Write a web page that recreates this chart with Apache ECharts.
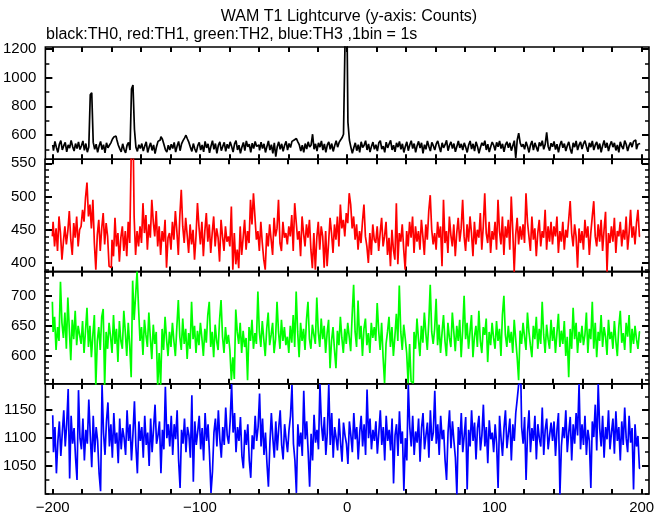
<!DOCTYPE html>
<html>
<head>
<meta charset="utf-8">
<script src="https://cdn.jsdelivr.net/npm/echarts@6/dist/echarts.min.js"></script>
<style>
html,body{margin:0;padding:0;background:#fff;}
#chart{width:669px;height:515px;}
</style>
</head>
<body>
<div id="chart"></div>
<script>
// ---- data (1 s bins, t = -200 ... +199) ----
const T_START = -200;

const TH0 = [
530,490,555,512,478,535,560,495,525,548,482,530,508,562,520,488,540,505,552,498,
525,558,492,540,480,515,880,895,548,500,535,478,522,555,498,532,475,545,510,528,
545,570,585,592,568,530,505,482,538,498,475,528,548,495,920,948,640,515,485,532,
505,540,488,522,552,478,515,545,492,530,470,518,555,565,588,570,535,498,480,528,
495,535,505,548,480,522,555,490,538,560,578,598,572,548,515,485,540,502,478,525,
548,495,530,482,555,510,538,475,522,560,500,540,472,528,552,490,520,548,485,535,
505,552,520,480,538,560,495,528,472,515,548,490,558,518,535,478,542,505,555,520,
530,492,550,505,538,478,520,558,495,532,472,545,448,518,552,500,538,485,528,555,
495,540,512,555,565,575,578,552,530,488,528,478,540,502,552,515,530,605,500,538,
488,545,515,558,495,538,478,530,552,500,540,485,525,560,515,548,565,580,605,1230,
1230,690,565,515,472,510,545,490,532,478,552,512,528,560,495,538,480,520,550,500,
532,488,545,560,502,522,478,550,510,538,562,495,528,482,545,515,555,500,538,478,
520,552,490,530,560,505,540,478,525,555,508,545,472,532,500,558,520,488,548,525,
495,538,558,518,480,545,510,532,562,490,528,552,505,540,482,520,558,510,538,495,
545,515,478,530,558,502,538,488,552,520,472,512,545,525,560,495,535,480,518,550,
528,492,548,518,558,505,538,482,530,552,510,545,490,525,560,440,565,612,545,518,
535,500,552,520,478,530,558,495,545,515,485,548,522,560,500,535,618,520,490,542,
518,555,498,535,478,530,558,510,540,488,525,552,502,470,545,515,558,495,530,552,
502,538,560,520,482,545,515,558,495,530,552,500,540,478,525,562,510,545,488,530,
555,515,545,492,530,478,552,520,502,560,535,488,525,548,515,555,565,500,535,540
];

const TH1 = [
440,462,425,452,418,470,445,405,432,455,428,448,478,435,412,460,438,470,425,450,
455,480,462,498,521,470,488,452,495,430,390,442,465,418,452,475,428,460,440,395,
393,435,410,468,425,445,402,438,455,418,448,410,462,430,560,560,470,412,448,425,
455,430,490,445,472,420,458,438,495,462,440,478,425,455,412,448,432,465,393,438,
445,420,462,435,478,448,412,470,510,455,430,468,442,415,458,428,450,405,440,490,
455,428,462,410,448,475,432,458,415,445,470,425,452,438,402,465,440,418,455,432,
440,425,485,390,445,398,420,392,455,412,438,465,420,448,430,495,458,505,470,435,
448,418,462,430,405,390,445,425,458,435,412,468,440,452,495,430,418,462,438,445,
428,455,440,472,418,490,462,435,448,410,470,445,425,458,438,465,420,392,445,390,
438,462,420,455,440,393,448,395,430,468,445,415,458,435,470,425,488,452,465,440,
475,460,505,488,452,470,435,458,420,448,430,462,488,440,425,400,445,412,458,435,
430,455,418,445,468,425,440,462,412,438,395,450,420,405,490,398,445,432,458,420,
390,448,425,462,438,470,415,455,432,448,420,465,440,412,458,435,478,502,450,428,
445,420,462,438,455,395,495,430,448,415,470,442,425,458,410,445,468,432,452,495,
440,418,458,432,470,445,410,462,428,450,438,475,420,455,505,445,430,462,415,448,
435,462,420,495,448,428,470,412,455,438,465,420,500,450,387,442,468,428,455,435,
458,430,505,462,440,418,470,435,452,410,445,465,425,448,438,480,420,455,432,462,
428,455,440,470,415,448,432,462,420,450,438,465,493,445,425,458,440,393,452,430,
448,420,465,438,455,412,445,470,493,440,425,458,432,465,418,450,477,387,445,430,
455,432,468,415,448,440,462,425,450,435,470,420,445,480,438,455,428,460,480,440
];

const TH2 = [
690,640,665,610,648,625,723,655,630,672,612,697,645,593,660,628,675,618,650,635,
620,658,605,642,680,615,650,598,635,668,550,625,648,610,665,678,550,640,612,655,
632,605,668,620,645,590,658,625,612,675,640,600,655,618,565,725,660,700,740,680,
625,648,602,660,635,615,672,630,595,652,620,640,550,605,552,645,610,665,628,600,
640,615,655,625,600,648,693,632,610,662,620,645,595,638,612,690,628,650,605,642,
618,655,630,600,645,622,668,690,615,640,598,652,625,610,660,693,632,605,648,620,
635,610,560,598,562,677,640,620,655,605,642,615,630,560,648,625,660,612,638,620,
707,640,615,658,628,600,645,672,618,635,655,605,628,690,640,612,660,625,648,618,
632,605,650,622,668,615,707,640,598,655,625,645,610,660,690,628,612,652,635,620,
697,640,615,662,628,650,605,638,660,580,625,648,610,580,642,618,665,630,605,645,
620,655,632,608,668,718,640,615,692,628,650,600,645,662,618,638,605,655,630,648,
625,688,642,610,655,598,555,620,640,665,615,648,600,632,670,625,717,640,610,652,
630,605,555,620,558,555,640,612,662,628,600,650,622,672,638,610,655,718,640,620,
645,695,618,652,605,638,668,625,600,655,630,615,672,640,608,650,625,660,598,642,
700,628,655,612,640,668,598,632,650,615,675,625,605,648,635,662,590,640,618,655,
630,612,658,625,645,600,668,700,635,615,650,622,640,605,660,628,598,560,642,620,
655,632,610,672,640,618,598,650,628,665,612,645,620,690,635,605,652,628,612,660,
625,648,605,638,670,615,642,620,658,600,632,565,645,612,680,628,655,605,640,622,
650,618,635,672,605,645,628,690,612,655,598,640,625,668,615,648,632,602,660,628,
640,612,658,625,600,648,675,622,638,610,655,632,668,605,645,620,650,628,612,640
];

const TH3 = [
1141,1075,1120,1037,1095,1130,1068,1110,1150,1085,1125,1188,1028,1140,1090,1118,1065,1025,1186,1100,
1080,1135,1060,1115,1090,1169,1105,1048,1140,1075,1120,1095,1037,1005,1195,1110,1070,1130,1164,1085,
1125,1065,1145,1090,1110,1055,1135,1080,1118,1100,1070,1150,1095,1125,1060,1108,1166,1085,1037,1130,
1095,1120,1065,1140,1088,1110,1050,1135,1075,1118,1160,1090,1105,1130,1037,1115,1080,1192,1100,1125,
1085,1140,1070,1125,1098,1150,1060,1011,1115,1090,1135,1075,1120,1105,1065,1177,1022,1130,1088,1112,
1140,1080,1118,1060,1145,1095,1125,1070,1002,1040,1110,1135,1085,1150,1098,1065,1120,1088,1155,1105,
1090,1130,1197,1110,1145,1075,1120,1095,1138,1068,1046,1115,1088,1125,1060,1029,1105,1080,1140,1095,
1120,1180,1085,1135,1070,1110,1055,1013,1090,1145,1100,1065,1130,1078,1118,1150,1088,1062,1125,1098,
1075,1115,1140,1195,1090,1060,1002,1125,1085,1110,1068,1185,1098,1130,1075,1013,1108,1060,1142,1092,
1115,1080,1197,1125,1095,1138,1070,1110,1197,1088,1145,1065,1120,1100,1078,1135,1092,1058,1128,1105,
1090,1054,1130,1105,1075,1145,1098,1120,1062,1110,1140,1085,1125,1070,1187,1100,1135,1080,1115,1095,
1130,1072,1110,1150,1088,1120,1060,1140,1095,1115,1078,1135,1019,1105,1125,1068,1148,1090,1112,1006,
1100,1060,1195,1120,1085,1140,1070,1112,1092,1135,1058,1118,1145,1080,1105,1128,1065,1150,1095,1110,
1185,1090,1125,1070,1140,1098,1115,1060,1025,1110,1150,1082,1130,1095,1065,999,1120,1088,1145,1075,
1105,1138,1008,1115,1085,1150,1095,1128,1062,1118,1140,1078,1105,1160,1085,1120,1055,1132,1098,1110,
1075,1125,1090,1011,1140,1100,1068,1118,1150,1082,1108,1135,1060,1125,1095,1145,1170,1197,1197,1120,
1090,1138,1025,1110,1150,1075,1118,1095,1140,1062,1125,1100,1085,1155,1070,1115,1135,1080,1105,1128,
1095,1130,1068,1115,1145,999,1085,1120,1100,1150,1075,1110,1138,1060,1125,1090,1145,1105,1197,1080,
1125,1088,1140,1070,1115,1095,1011,1130,1102,1160,1078,1197,1118,1085,1140,1065,1120,1098,1150,1080,
1110,1135,1072,1148,1095,1120,1060,1130,1088,1155,1100,1075,1140,1092,1118,1008,1125,1085,1104,1046
];

const SERIES_NAMES = ['TH0','TH1','TH2','TH3'];
const SERIES_COLORS = ['#000000','#ff0000','#00ff00','#0000ff'];
const Y_LABELS = [
  [600,800,1000,1200],
  [400,450,500,550],
  [600,650,700],
  [1050,1100,1150]
];
const X_LABELS = [-200,-100,0,100,200];
const TITLE = 'WAM T1 Lightcurve (y-axis: Counts)';
const SUBTITLE = 'black:TH0, red:TH1, green:TH2, blue:TH3 ,1bin = 1s';

// ---- layout ----
const ALL = [TH0, TH1, TH2, TH3];
const Y_RANGE = [[430,1214],[387,556],[554,740],[1000,1197]];
const Y_MINOR_STEP = [100,10,10,25];
const GRID_TOP = [47,159.3,271.6,384];
const GRID_H = [112.3,112.3,112.2,112];
const LEFT = 45, RIGHT = 20;
const XMIN = -205, XMAX = 205;
const FONT = '"Liberation Sans", Arial, Helvetica, sans-serif';

function range(a, b, s) { const r = []; for (let v = a; v <= b + 1e-9; v += s) r.push(v); return r; }
const xTicks = range(-200, 200, 20);

const grids = [], xAxes = [], yAxes = [], series = [];
for (let g = 0; g < 4; g++) {
  grids.push({left: LEFT, right: RIGHT, top: GRID_TOP[g], height: GRID_H[g], show: true,
              borderColor: '#000', borderWidth: 1.6, backgroundColor: 'transparent'});
  const [ymin, ymax] = Y_RANGE[g];
  const majors = Y_LABELS[g];
  const minors = range(Math.ceil(ymin / Y_MINOR_STEP[g]) * Y_MINOR_STEP[g], ymax, Y_MINOR_STEP[g])
                 .filter(v => majors.indexOf(v) < 0);
  const yBase = {type: 'value', gridIndex: g, min: ymin, max: ymax, splitLine: {show: false},
                 axisLine: {show: false, onZero: false}};
  yAxes.push(Object.assign({}, yBase, {position: 'left',
    axisTick: {show: true, inside: true, length: 7, customValues: majors, lineStyle: {color: '#000', width: 2}},
    axisLabel: {show: true, customValues: majors, margin: 9, color: '#000', fontSize: 15, fontFamily: FONT,
      formatter: v => String(v)}}));
  yAxes.push(Object.assign({}, yBase, {position: 'left',
    axisTick: {show: true, inside: true, length: 4, customValues: minors, lineStyle: {color: '#000', width: 1.5}},
    axisLabel: {show: false}}));
  yAxes.push(Object.assign({}, yBase, {position: 'right',
    axisTick: {show: true, inside: true, length: 7, customValues: majors, lineStyle: {color: '#000', width: 2}},
    axisLabel: {show: false}}));
  yAxes.push(Object.assign({}, yBase, {position: 'right',
    axisTick: {show: true, inside: true, length: 4, customValues: minors, lineStyle: {color: '#000', width: 1.5}},
    axisLabel: {show: false}}));

  const xBase = {type: 'value', gridIndex: g, min: XMIN, max: XMAX, splitLine: {show: false},
                 axisLine: {show: false, onZero: false}};
  xAxes.push(Object.assign({}, xBase, {position: 'bottom',
    axisTick: {show: true, inside: true, length: 5, customValues: xTicks, lineStyle: {color: '#000', width: 2}},
    axisLabel: g === 3 ? {show: true, customValues: X_LABELS, margin: 6, color: '#000', fontSize: 15, fontFamily: FONT,
      formatter: v => String(v).replace('-', '\u2212')} : {show: false}}));
  xAxes.push(Object.assign({}, xBase, {position: 'top',
    axisTick: {show: true, inside: true, length: 5, customValues: xTicks, lineStyle: {color: '#000', width: 2}},
    axisLabel: {show: false}}));

  series.push({
    name: SERIES_NAMES[g], type: 'line', step: 'middle', xAxisIndex: g * 2, yAxisIndex: g * 4,
    data: ALL[g].map((v, i) => [T_START + i, v]),
    showSymbol: false, symbol: 'none', clip: true, animation: false,
    lineStyle: {color: SERIES_COLORS[g], width: 1.7}
  });
}

const chart = echarts.init(document.getElementById('chart'), null, {renderer: 'canvas'});
chart.setOption({
  animation: false,
  backgroundColor: '#fff',
  grid: grids, xAxis: xAxes, yAxis: yAxes, series: series,
  graphic: [
    {type: 'text', x: 349, y: 17, style: {text: TITLE, fill: '#000', font: '16px ' + FONT, textAlign: 'center', textVerticalAlign: 'middle'}},
    {type: 'text', x: 46, y: 35, style: {text: SUBTITLE, fill: '#000', font: '16px ' + FONT, textAlign: 'left', textVerticalAlign: 'middle'}}
  ]
});
</script>
</body>
</html>
